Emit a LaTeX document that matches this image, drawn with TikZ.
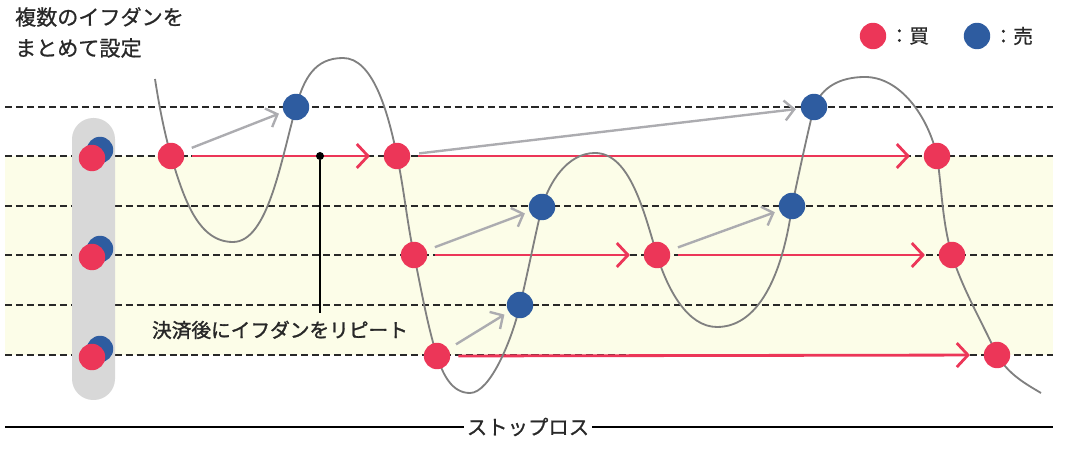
\documentclass[tikz,border=0pt]{standalone}
\usepackage{fontspec}
\newfontfamily\jp{Noto Sans CJK JP}[FakeBold=0.8]
\newfontfamily\jpb{Noto Sans CJK JP}[FakeBold=1.5]
\usepackage{tikz}
\usetikzlibrary{arrows.meta,positioning}
\definecolor{buyred}{RGB}{236,54,88}
\definecolor{sellblue}{RGB}{46,92,160}
\definecolor{bandyellow}{RGB}{252,253,232}
\definecolor{pillgray}{RGB}{216,216,216}
\definecolor{curvegray}{RGB}{128,128,128}
\definecolor{arrowgray}{RGB}{172,172,176}
\definecolor{inkgray}{RGB}{40,40,40}
\pgfdeclarelayer{back}
\pgfdeclarelayer{mid}
\pgfsetlayers{back,mid,main}
\tikzset{buy/.style={circle,fill=buyred,minimum size=0.66cm,inner sep=0pt},
	sell/.style={circle,fill=sellblue,minimum size=0.66cm,inner sep=0pt},
	level/.style={draw=inkgray,line width=1.6pt,dash pattern=on 5pt off 2.8pt},
	hold/.style={draw=buyred,line width=2pt,-{Straight Barb[length=0.28cm,width=0.6cm]},shorten <=0.2cm,shorten >=0.34cm},
	move/.style={draw=arrowgray,line width=1.7pt,-{Straight Barb[length=0.24cm,width=0.5cm]},shorten <=0.22cm,shorten >=0.12cm},
	curve/.style={draw=curvegray,line width=1.3pt},
	stop/.style={draw=black,line width=2pt},
	txt/.style={font=\jp\fontsize{14pt}{17pt}\selectfont,text=inkgray,inner sep=2pt}}

\begin{document}
\begin{tikzpicture}[x=0.025cm,y=-0.025cm]
	\useasboundingbox (0,0) rectangle (1072,464);
	% buy / sell points
	\node(b1)[buy] at (171,156){};
	\node(b2)[buy] at (397,156){};
	\node(b3)[buy] at (414,255){};
	\node(b4)[buy] at (437,356){};
	\node(b5)[buy] at (657,255){};
	\node(b6)[buy] at (937,156){};
	\node(b7)[buy] at (952,255){};
	\node(b8)[buy] at (997,355){};
	\node(s1)[sell] at (296,107){};
	\node(s2)[sell] at (520,305){};
	\node(s3)[sell] at (542,207){};
	\node(s4)[sell] at (792,206){};
	\node(s5)[sell] at (814,107){};
	% grouped orders
	\foreach \y/\n in {156/1,255/2,355/3}{
		\node(ps\n)[sell] at (100,\y-6){};
		\node(pb\n)[buy] at (92,\y+2){};
	}
	% price curve
	\coordinate(c0) at (155,79);
	\coordinate(v1) at (233,242);
	\coordinate(h1) at (343,58);
	\coordinate(v2) at (470,393);
	\coordinate(h2) at (595,153);
	\coordinate(v3) at (717,327);
	\coordinate(h3) at (865,77);
	\coordinate(c9) at (1041,393);
	\begin{pgfonlayer}{back}
		\fill[bandyellow] (5,156) rectangle (1053,355);
		\foreach \y in {107,156,206,255,305,355}
			\draw[level] (5,\y) -- (1053,\y);
		\fill[pillgray,rounded corners=0.53cm] (72,118) rectangle (115,400);
	\end{pgfonlayer}
	\begin{pgfonlayer}{mid}
		\draw[hold](b1) to (b2);
		\draw[hold](b2) to (b6);
		\draw[hold](b3) to (b5);
		\draw[hold](b5) to (b7);
		\draw[hold](b4) to (b8);
		\draw[move](b1) to (s1);
		\draw[move](b2) to (s5);
		\draw[move](b3) to (s3);
		\draw[move](b4) to (s2);
		\draw[move](b5) to (s4);
		\draw[curve](c0) .. controls +(4,26) and +(-7,-25) .. (b1.center)
			.. controls +(13,43) and +(-35,0) .. (v1)
			.. controls +(35,0) and +(-15,53) .. (s1.center)
			.. controls +(8,-29) and +(-28,0) .. (h1)
			.. controls +(30,0) and +(-9,-44) .. (b2.center)
			.. controls +(7,33) and +(-7,-33) .. (b3.center)
			.. controls +(7,33) and +(-10,-32) .. (b4.center)
			.. controls +(6,19) and +(-18,0) .. (v2)
			.. controls +(20,0) and +(-8,35) .. (s2.center)
			.. controls +(8,-33) and +(-8,33) .. (s3.center)
			.. controls +(7,-24) and +(-28,0) .. (h2)
			.. controls +(35,0) and +(-13,-43) .. (b5.center)
			.. controls +(10,33) and +(-30,0) .. (v3)
			.. controls +(45,0) and +(-8,60) .. (s4.center)
			.. controls +(7,-33) and +(-8,33) .. (s5.center)
			.. controls +(8,-20) and +(-25,0) .. (h3)
			.. controls +(35,0) and +(-9,-40) .. (b6.center)
			.. controls +(5,33) and +(-10,-33) .. (b7.center)
			.. controls +(10,33) and +(-15,-33) .. (b8.center)
			.. controls +(12,20) and +(-15,-9) .. (c9);
	\end{pgfonlayer}
	% repeat note
	\node(rp)[circle,fill=black,inner sep=0pt,minimum size=0.2cm] at (320,156){};
	\coordinate(rq) at (320,313);
	\draw[line width=0.9pt](rp) -- (rq);
	\node(rl)[txt,font=\jpb\fontsize{14pt}{17pt}\selectfont] at (280,330){決済後にイフダンをリピート};
	% top note and legend
	\node(t1)[txt,anchor=west,font=\jp\fontsize{15pt}{18pt}\selectfont] at (12,17){複数のイフダンを};
	\node(t2)[txt,anchor=west,font=\jp\fontsize{15pt}{18pt}\selectfont] at (12,48){まとめて設定};
	\node(lb)[buy] at (873,36){};
	\node(lbt)[txt,right=0pt of lb]{：買};
	\node(ls)[sell] at (977,36){};
	\node(lst)[txt,right=0pt of ls]{：売};
	% stop loss
	\node(sl)[txt,font=\jp\fontsize{14.5pt}{17pt}\selectfont] at (528,427){ストップロス};
	\coordinate(sa) at (5,427);
	\coordinate(sb) at (1053,427);
	\draw[stop](sa) -- (sl);
	\draw[stop](sl) -- (sb);
\end{tikzpicture}
\end{document}
